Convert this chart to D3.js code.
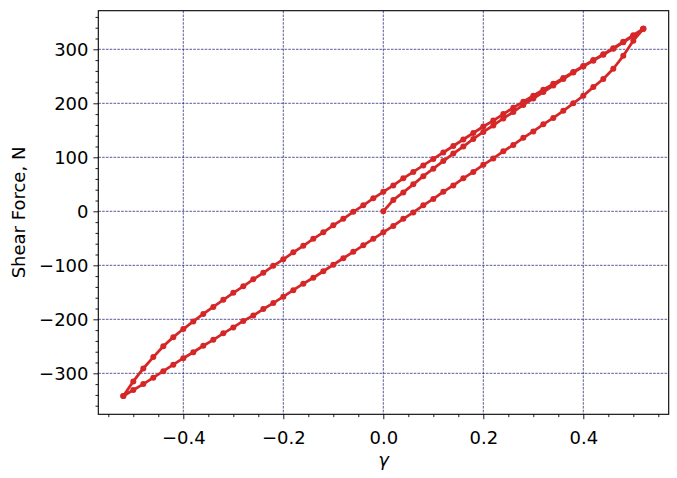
<!DOCTYPE html>
<html>
<head>
<meta charset="utf-8">
<script src="https://cdn.jsdelivr.net/npm/d3@7"></script>
<style>
  html, body { margin: 0; padding: 0; background: #fff; }
  svg text { font-family: "DejaVu Sans", sans-serif; fill: #000; }
</style>
</head>
<body>
<svg id="chart" width="677" height="478"></svg>
<script>
// ---- data ----
const gammaLoad = [0, 0.02, 0.04, 0.06, 0.08, 0.10, 0.12, 0.14, 0.16, 0.18, 0.20, 0.22, 0.24, 0.26, 0.28, 0.30, 0.32, 0.34, 0.36, 0.38, 0.40, 0.42, 0.44, 0.46, 0.48, 0.50, 0.52];
const forceLoad = [0, 21, 35, 50, 65, 79, 93, 107, 120, 134, 147, 159, 172, 184, 197, 209, 221, 233, 245, 257, 268, 279, 290, 301, 313, 325, 338];

const gammaUnload = [0.52, 0.50, 0.48, 0.46, 0.44, 0.42, 0.40, 0.38, 0.36, 0.34, 0.32, 0.30, 0.28, 0.26, 0.24, 0.22, 0.20, 0.18, 0.16, 0.14, 0.12, 0.10, 0.08, 0.06, 0.04, 0.02, 0.00,
  -0.02, -0.04, -0.06, -0.08, -0.10, -0.12, -0.14, -0.16, -0.18, -0.20, -0.22, -0.24, -0.26, -0.28, -0.30, -0.32, -0.34, -0.36, -0.38, -0.40, -0.42, -0.44, -0.46, -0.48, -0.50, -0.52];
const forceUnload = [338, 326, 314, 302, 291, 280, 269, 258, 247, 236, 225, 214, 203, 192, 180, 168, 157, 145, 133, 121, 109, 97, 85, 73, 61, 48, 36,
  24, 11, -1, -14, -26, -39, -51, -64, -76, -89, -101, -114, -126, -139, -151, -164, -177, -190, -204, -218, -233, -250, -270, -291, -315, -342];

const gammaReload = [-0.52, -0.50, -0.48, -0.46, -0.44, -0.42, -0.40, -0.38, -0.36, -0.34, -0.32, -0.30, -0.28, -0.26, -0.24, -0.22, -0.20, -0.18, -0.16, -0.14, -0.12, -0.10, -0.08, -0.06, -0.04, -0.02, 0.00,
  0.02, 0.04, 0.06, 0.08, 0.10, 0.12, 0.14, 0.16, 0.18, 0.20, 0.22, 0.24, 0.26, 0.28, 0.30, 0.32, 0.34, 0.36, 0.38, 0.40, 0.42, 0.44, 0.46, 0.48, 0.50, 0.52];
const forceReload = [-342, -331, -320, -308, -296, -284, -272, -261, -249, -238, -226, -215, -203, -193, -181, -170, -158, -146, -134, -123, -111, -99, -87, -75, -63, -51, -39,
  -27, -14, -2, 11, 23, 36, 48, 61, 73, 86, 98, 111, 123, 136, 148, 161, 173, 186, 200, 214, 230, 245, 264, 288, 316, 338];

const xMajorTicks = [-0.4, -0.2, 0.0, 0.2, 0.4];
const xTickLabels = ["\u22120.4", "\u22120.2", "0.0", "0.2", "0.4"];
const yMajorTicks = [-300, -200, -100, 0, 100, 200, 300];
const yTickLabels = ["\u2212300", "\u2212200", "\u2212100", "0", "100", "200", "300"];
const xMinorTicks = [-0.55, -0.5, -0.45, -0.35, -0.3, -0.25, -0.15, -0.1, -0.05, 0.05, 0.1, 0.15, 0.25, 0.3, 0.35, 0.45, 0.5, 0.55];
const yMinorTicks = [-360, -340, -320, -280, -260, -240, -220, -180, -160, -140, -120, -80, -60, -40, -20, 20, 40, 60, 80, 120, 140, 160, 180, 220, 240, 260, 280, 320, 340, 360];

const xLabel = "\u03b3";
const yLabel = "Shear Force, N";

// ---- layout ----
const L = 98.3, R = 668.7, T = 10.7, B = 414.3;
const svg = d3.select("#chart");
const x = d3.scaleLinear().domain([-0.57, 0.5708]).range([L, R]);
const y = d3.scaleLinear().domain([-375.9, 371.5]).range([B, T]);

// grid
const gridColor = "#14146e";
const grid = svg.append("g");
grid.selectAll("line.gx").data(xMajorTicks).join("line")
  .attr("x1", d => x(d)).attr("x2", d => x(d)).attr("y1", T).attr("y2", B)
  .attr("stroke", gridColor).attr("stroke-width", 0.7).attr("stroke-dasharray", "2.6,1.2");
grid.selectAll("line.gy").data(yMajorTicks).join("line")
  .attr("x1", L).attr("x2", R).attr("y1", d => y(d)).attr("y2", d => y(d))
  .attr("stroke", gridColor).attr("stroke-width", 0.7).attr("stroke-dasharray", "2.6,1.2");

// data
const pts = [];
gammaLoad.forEach((g, i) => pts.push([g, forceLoad[i]]));
gammaUnload.forEach((g, i) => pts.push([g, forceUnload[i]]));
gammaReload.forEach((g, i) => pts.push([g, forceReload[i]]));

const color = "#d62728";
svg.append("clipPath").attr("id", "clip").append("rect")
  .attr("x", L).attr("y", T).attr("width", R - L).attr("height", B - T);
const plot = svg.append("g").attr("clip-path", "url(#clip)");
plot.append("path")
  .attr("d", d3.line().x(d => x(d[0])).y(d => y(d[1]))(pts))
  .attr("fill", "none").attr("stroke", color).attr("stroke-width", 2.8)
  .attr("stroke-linejoin", "round").attr("stroke-linecap", "round");
plot.selectAll("circle").data(pts).join("circle")
  .attr("cx", d => x(d[0])).attr("cy", d => y(d[1])).attr("r", 3)
  .attr("fill", color);

// axes
const xAxis = d3.axisBottom(x).tickValues(xMajorTicks).tickFormat((d, i) => xTickLabels[i]).tickSize(4.9).tickPadding(4.9);
const xAxisMinor = d3.axisBottom(x).tickValues(xMinorTicks).tickFormat("").tickSize(2.8);
const yAxis = d3.axisLeft(y).tickValues(yMajorTicks).tickFormat((d, i) => yTickLabels[i]).tickSize(4.9).tickPadding(4.9);
const yAxisMinor = d3.axisLeft(y).tickValues(yMinorTicks).tickFormat("").tickSize(2.8);

function style(g) {
  g.select(".domain").remove();
  g.selectAll("line").attr("stroke", "#000").attr("stroke-width", 0.9);
  g.selectAll("text").attr("font-size", 18).attr("font-family", "DejaVu Sans").attr("fill", "#000");
}
svg.append("g").attr("transform", `translate(0,${B})`).call(xAxis).call(style)
  .selectAll("text").attr("dy", null).attr("y", 29.7);
svg.append("g").attr("transform", `translate(0,${B})`).call(xAxisMinor).call(style);
svg.append("g").attr("transform", `translate(${L},0)`).call(yAxis).call(style)
  .selectAll("text").attr("dy", "0.36em");
svg.append("g").attr("transform", `translate(${L},0)`).call(yAxisMinor).call(style);

// frame
svg.append("rect").attr("x", L).attr("y", T).attr("width", R - L).attr("height", B - T)
  .attr("fill", "none").attr("stroke", "#000").attr("stroke-width", 1.1);

// labels
svg.append("text").attr("x", (L + R) / 2).attr("y", 466).attr("text-anchor", "middle")
  .attr("font-size", 18).attr("font-style", "italic").text(xLabel);
svg.append("text").attr("transform", `translate(25,${(T + B) / 2}) rotate(-90)`)
  .attr("text-anchor", "middle").attr("font-size", 18).text(yLabel);
</script>
</body>
</html>
